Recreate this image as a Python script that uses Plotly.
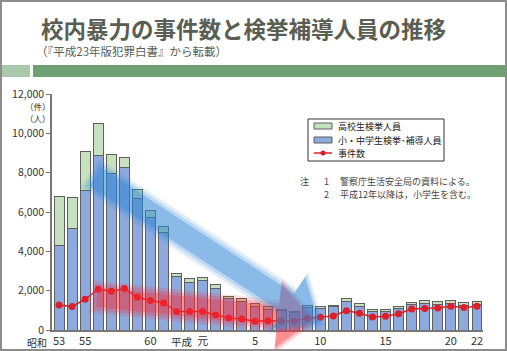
import math
import plotly.graph_objects as go

# ---- data ----
years = (["昭和%d" % y for y in range(53, 64)] + ["平成元"] +
         ["平成%d" % y for y in range(2, 23)])
junior = [4280, 5140, 7100, 8860, 7950, 8250, 6680, 5700, 4950, 2700, 2410,
          2500, 2130, 1580, 1440, 1190, 1055, 970, 880, 1140, 1070, 1190,
          1430, 1170, 920, 935, 1070, 1275, 1340, 1290, 1360, 1260, 1310]
senior = [2500, 1610, 1980, 1640, 950, 520, 460, 400, 290, 160, 190,
          150, 170, 140, 180, 140, 115, 50, 50, 120, 150, 70,
          170, 160, 100, 115, 100, 135, 140, 155, 150, 120, 150]
incidents = [1275, 1190, 1565, 2075, 1970, 2110, 1665, 1495, 1375, 935, 935,
             935, 765, 610, 560, 450, 475, 440, 440, 595, 650, 715,
             985, 850, 665, 700, 830, 1070, 1090, 1120, 1210, 1140, 1210]
tick_vals = ["昭和53", "昭和55", "昭和60", "平成元", "平成5", "平成10",
             "平成15", "平成20", "平成22"]
tick_text = ["53", "55", "60", "元", "5", "10", "15", "20", "22"]
y_ticks = [0, 2000, 4000, 6000, 8000, 10000, 12000]
y_labels = ["0", "2,000", "4,000", "6,000", "8,000", "10,000", "12,000"]

FONT = "Noto Sans CJK JP"
W, H = 507, 351
L, R, T, B = 52, 483, 94, 330

def px(x):
    return (x - L) / (R - L)

def py(y):
    return (B - y) / (B - T)

BLUE = "rgb(141,169,222)"
GREEN = "rgb(197,225,189)"
RED = "rgb(222,30,40)"
EDGE = "rgb(95,95,95)"

fig = go.Figure()
fig.add_bar(x=years, y=junior, marker=dict(color=BLUE, line=dict(color=EDGE, width=1)),
            name="小・中学生検挙･補導人員", showlegend=False)
fig.add_bar(x=years, y=senior, marker=dict(color=GREEN, line=dict(color=EDGE, width=1)),
            name="高校生検挙人員", showlegend=False)
fig.add_scatter(x=years, y=incidents, mode="lines+markers",
                line=dict(color=RED, width=1.5), marker=dict(color=RED, size=7),
                name="事件数", showlegend=False)

shapes = []
annotations = []

def poly(points, color, opacity):
    path = "M " + " L ".join("%.5f,%.5f" % (px(x), py(y)) for x, y in points) + " Z"
    shapes.append(dict(type="path", path=path, xref="paper", yref="paper",
                       fillcolor=color, opacity=opacity, line=dict(width=0),
                       layer="above"))

def arrow(start, base, shaft_hw, head_hw, head_len, color, layers):
    dx, dy = base[0] - start[0], base[1] - start[1]
    ln = math.hypot(dx, dy)
    ux, uy = dx / ln, dy / ln
    nx, ny = -uy, ux
    for grow, op in layers:
        sw = shaft_hw + grow
        hw = head_hw + grow
        hl = head_len + grow
        s0 = (start[0] - ux * grow, start[1] - uy * grow)
        pts = [(s0[0] + nx * sw, s0[1] + ny * sw),
               (base[0] + nx * sw, base[1] + ny * sw),
               (base[0] + nx * hw, base[1] + ny * hw),
               (base[0] + ux * hl, base[1] + uy * hl),
               (base[0] - nx * hw, base[1] - ny * hw),
               (base[0] - nx * sw, base[1] - ny * sw),
               (s0[0] - nx * sw, s0[1] - ny * sw)]
        poly(pts, color, op)

# decorative trend arrows (soft edges via stacked layers)
arrow((96, 297), (278, 316), 11, 33, 36, "rgb(255,40,50)", [(5, 0.15), (2, 0.2), (-1, 0.3)])
arrow((94, 176), (288, 303), 12, 32, 38, "rgb(45,135,215)", [(5, 0.15), (2, 0.2), (-1, 0.35)])

# header
annotations.append(dict(text="<b>校内暴力の事件数と検挙補導人員の推移</b>", x=px(39), y=py(28),
                        xref="paper", yref="paper", xanchor="left", yanchor="middle",
                        showarrow=False, font=dict(family=FONT, size=22.5, color="rgb(90,94,82)")))
annotations.append(dict(text="（『平成23年版犯罪白書』から転載）", x=px(34), y=py(51),
                        xref="paper", yref="paper", xanchor="left", yanchor="middle",
                        showarrow=False, font=dict(family=FONT, size=11.5, color="rgb(90,94,82)")))
shapes.append(dict(type="rect", xref="paper", yref="paper", x0=px(0), x1=px(30),
                   y0=py(65), y1=py(77), fillcolor="rgb(170,200,170)", line=dict(width=0)))
shapes.append(dict(type="rect", xref="paper", yref="paper", x0=px(33), x1=px(507),
                   y0=py(65), y1=py(77), fillcolor="rgb(111,160,116)", line=dict(width=0)))
# outer frame
shapes.append(dict(type="rect", xref="paper", yref="paper", x0=px(1), x1=px(506),
                   y0=py(1), y1=py(350), line=dict(color="rgb(140,140,140)", width=2)))

# unit labels
for t, yy in [("（件）", 106), ("（人）", 118)]:
    annotations.append(dict(text=t, x=px(38), y=py(yy), xref="paper", yref="paper",
                            showarrow=False, xanchor="center", yanchor="middle",
                            font=dict(family=FONT, size=8.5, color="#333")))
# era prefixes
annotations.append(dict(text="昭和", x=px(49), y=py(342), xref="paper", yref="paper",
                        showarrow=False, xanchor="right", yanchor="middle",
                        font=dict(family=FONT, size=10, color="#333")))
annotations.append(dict(text="平成", x=px(195), y=py(341), xref="paper", yref="paper",
                        showarrow=False, xanchor="right", yanchor="middle",
                        font=dict(family=FONT, size=10.5, color="#333")))

# legend (drawn)
shapes.append(dict(type="rect", xref="paper", yref="paper", x0=px(308), x1=px(444),
                   y0=py(119), y1=py(161), line=dict(color="#333", width=1),
                   fillcolor="white", layer="below"))
shapes.append(dict(type="rect", xref="paper", yref="paper", x0=px(314), x1=px(332),
                   y0=py(123), y1=py(129), line=dict(color=EDGE, width=1), fillcolor=GREEN))
shapes.append(dict(type="rect", xref="paper", yref="paper", x0=px(314), x1=px(332),
                   y0=py(137), y1=py(143), line=dict(color=EDGE, width=1), fillcolor=BLUE))
shapes.append(dict(type="line", xref="paper", yref="paper", x0=px(314), x1=px(332),
                   y0=py(153), y1=py(153), line=dict(color=RED, width=1.5)))
shapes.append(dict(type="circle", xref="paper", yref="paper", x0=px(320.5), x1=px(325.5),
                   y0=py(150.5), y1=py(155.5), line=dict(width=0), fillcolor=RED))
for t, yy in [("高校生検挙人員", 126), ("小・中学生検挙･補導人員", 140), ("事件数", 153)]:
    annotations.append(dict(text=t, x=px(336), y=py(yy), xref="paper", yref="paper",
                            showarrow=False, xanchor="left", yanchor="middle",
                            font=dict(family=FONT, size=9, color="#222")))
# notes
for t, xx, yy in [("注", 298, 181), ("1", 322, 181), ("警察庁生活安全局の資料による。", 338, 181),
                  ("2", 322, 194), ("平成12年以降は，小学生を含む。", 338, 194)]:
    annotations.append(dict(text=t, x=px(xx), y=py(yy), xref="paper", yref="paper",
                            showarrow=False, xanchor="left", yanchor="middle",
                            font=dict(family=FONT, size=9, color="#444")))

fig.update_layout(
    width=W, height=H,
    margin=dict(l=L, r=W - R, t=T, b=H - B, pad=0, autoexpand=False),
    paper_bgcolor="white", plot_bgcolor="white",
    barmode="stack", bargap=0.24,
    showlegend=False,
    font=dict(family=FONT, size=11, color="#333"),
    xaxis=dict(type="category", categoryorder="array", categoryarray=years,
               range=[-0.54, 32.46], tickmode="array", tickvals=tick_vals,
               ticktext=tick_text, showline=True, linecolor="#777", linewidth=1.5,
               ticks="", showgrid=False, zeroline=False, tickangle=0, automargin=False,
               tickfont=dict(family=FONT, size=11, color="#333")),
    yaxis=dict(range=[0, 12000], tickmode="array", tickvals=y_ticks, ticktext=y_labels,
               showline=True, linecolor="#777", linewidth=1.5, ticks="outside",
               ticklen=4, tickcolor="#777", showgrid=False, zeroline=False, automargin=False,
               tickfont=dict(family=FONT, size=10.5, color="#333")),
    shapes=shapes, annotations=annotations,
)

fig.write_html("out.html")
